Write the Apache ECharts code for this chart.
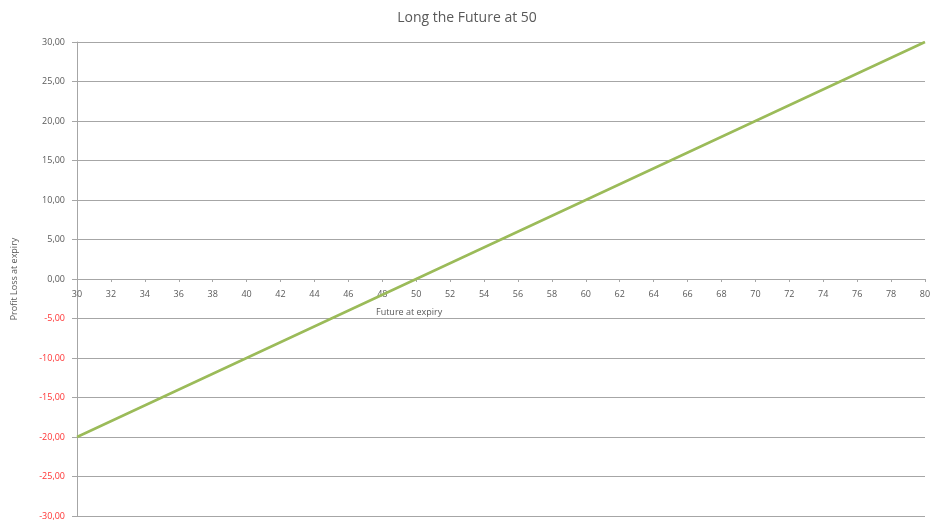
<!DOCTYPE html>
<html><head><meta charset="utf-8">
<script src="https://cdn.jsdelivr.net/npm/echarts@6/dist/echarts.min.js"></script>
<style>html,body{margin:0;padding:0;background:#fff}#c{width:934px;height:527px}</style>
</head><body><div id="c"></div>
<script>
const titleText = "Long the Future at 50";
const xName = "Future at expiry";
const yName = "Profit Loss at expiry";
const futurePrices = [30, 35, 40, 45, 50, 55, 60, 65, 70, 75, 80];
const profitLoss = [-20, -15, -10, -5, 0, 5, 10, 15, 20, 25, 30];

const chart = echarts.init(document.getElementById('c'));
chart.setOption({
  animation: false,
  backgroundColor: '#fff',
  title: { text: titleText, left: 'center', top: 6, textStyle: { fontFamily: 'Open Sans', fontSize: 14, fontWeight: 'normal', color: '#595959' } },
  grid: { left: 77, right: 9, top: 42, bottom: 11, containLabel: false, outerBoundsMode: 'none' },
  xAxis: {
    type: 'value', min: 30, max: 80, interval: 2,
    position: 'bottom', offset: -237,
    axisLine: { onZero: false, lineStyle: { color: '#a6a6a6', width: 1 } },
    axisTick: { show: true, length: 3, lineStyle: { color: '#a6a6a6' } },
    splitLine: { show: false },
    axisLabel: { color: '#595959', fontSize: 9, fontFamily: 'Open Sans', margin: 11 }
  },
  yAxis: {
    type: 'value', min: -30, max: 30, interval: 5,
    name: yName, nameLocation: 'middle', nameGap: 58, nameRotate: 90,
    nameTextStyle: { color: '#595959', fontSize: 9, fontFamily: 'Open Sans' },
    axisLine: { show: true, lineStyle: { color: '#a6a6a6', width: 1 } },
    axisTick: { show: true, length: 5, lineStyle: { color: '#a6a6a6' } },
    splitLine: { show: true, lineStyle: { color: '#a6a6a6', width: 1 } },
    axisLabel: {
      fontSize: 9, fontFamily: 'Open Sans', margin: 12,
      formatter: v => {
        const s = v.toFixed(2).replace('.', ',');
        return v < 0 ? '{n|' + s + '}' : '{p|' + s + '}';
      },
      rich: { n: { color: '#ff3333', fontSize: 9, fontFamily: 'Open Sans' }, p: { color: '#595959', fontSize: 9, fontFamily: 'Open Sans' } }
    }
  },
  graphic: [{ type: 'text', left: 376, top: 308, style: { text: xName, fill: '#595959', fontSize: 9, fontFamily: 'Open Sans' } }],
  series: [{
    type: 'line', data: futurePrices.map((x, i) => [x, profitLoss[i]]),
    showSymbol: false, lineStyle: { color: '#9bbb59', width: 2.5 }
  }]
});
</script></body></html>
